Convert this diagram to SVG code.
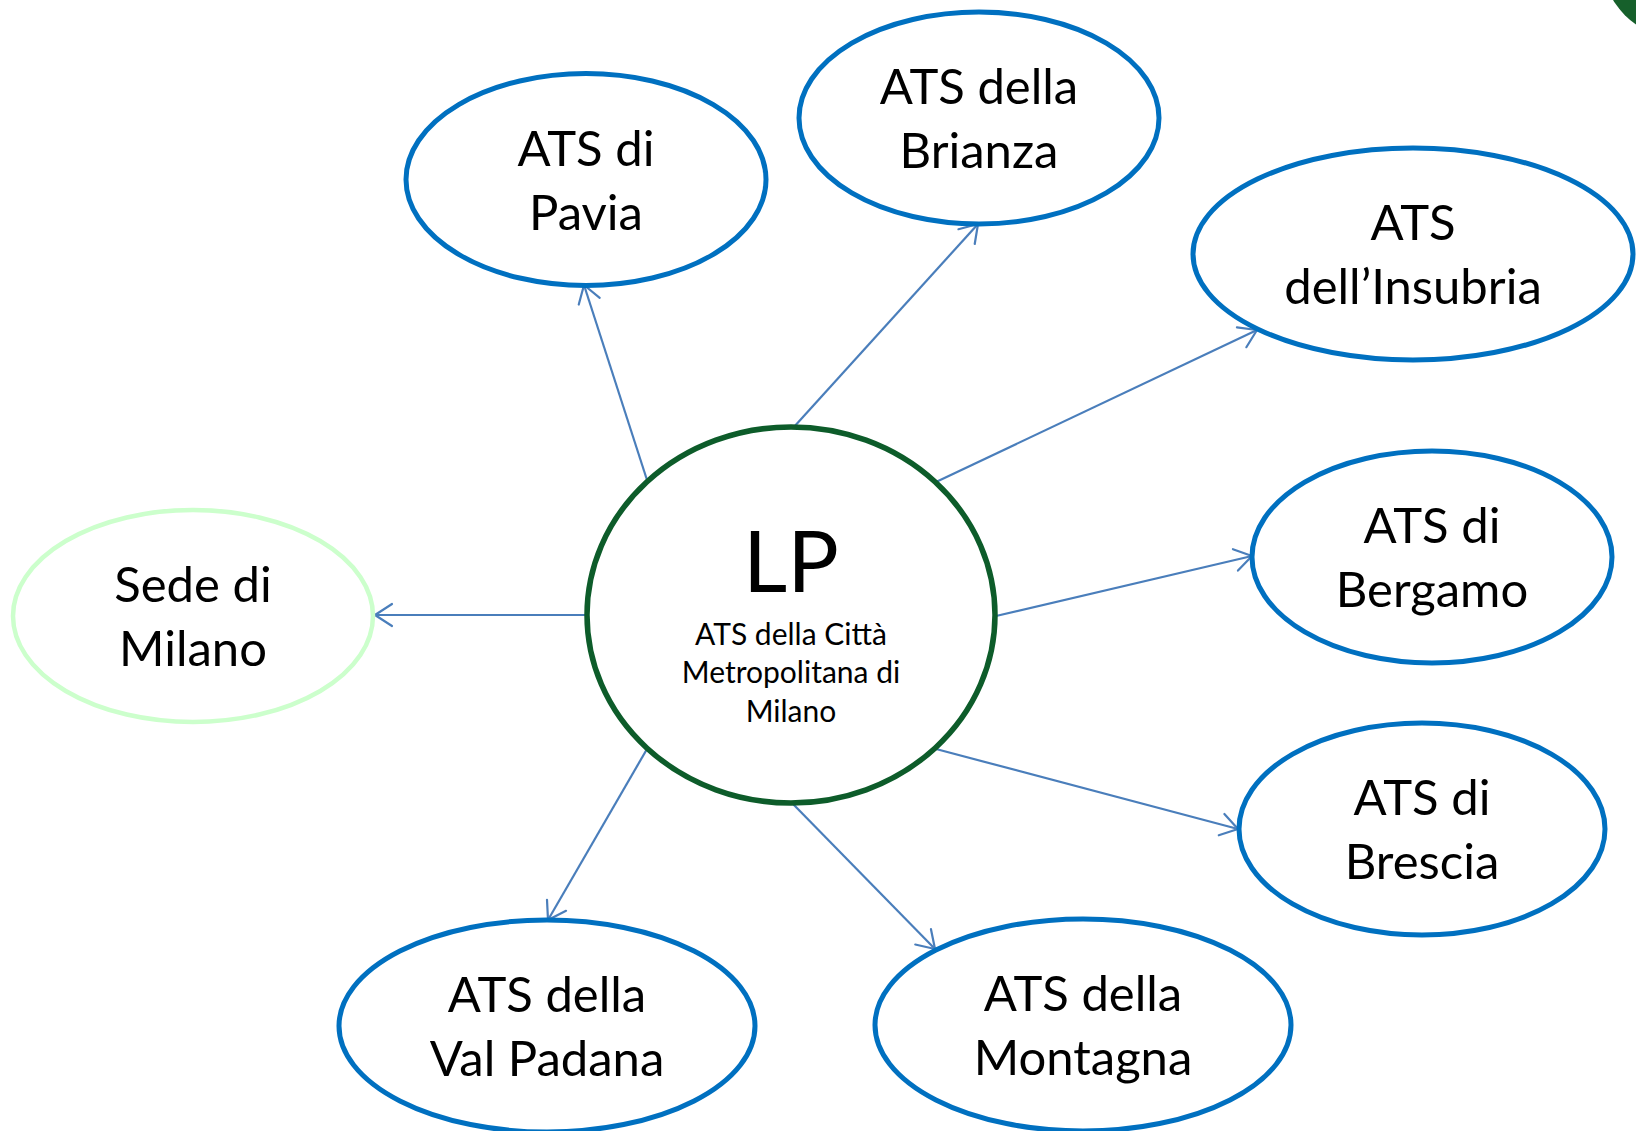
<svg xmlns="http://www.w3.org/2000/svg" width="1636" height="1131" viewBox="0 0 1636 1131">
  <defs>
    <marker id="arr" markerUnits="userSpaceOnUse" markerWidth="24" markerHeight="28" viewBox="-20 -14 24 28" refX="0" refY="0" orient="auto">
      <path d="M -17 -11 L 0 0 L -17 11" fill="none" stroke="#4a7ebb" stroke-width="2.2" stroke-linecap="round" stroke-linejoin="round"/>
    </marker>
    <style>
      .ats { fill: #ffffff; stroke: #0070c0; stroke-width: 5; }
      .sede { fill: #ffffff; stroke: #ccffcc; stroke-width: 4.5; }
      .hub { fill: #ffffff; stroke: #0d5c2a; stroke-width: 5.5; }
      .lbl { font-family: Lato, "Open Sans", sans-serif; font-size: 49px; fill: #000000; text-anchor: middle; }
      .big { font-family: Lato, "Open Sans", sans-serif; font-size: 86px; fill: #000000; text-anchor: middle; }
      .small { font-family: Lato, "Open Sans", sans-serif; font-size: 30px; fill: #000000; text-anchor: middle; }
      .conn { stroke: #4a7ebb; stroke-width: 2.2; fill: none; marker-end: url(#arr); }
    </style>
  </defs>
  <rect x="0" y="0" width="1636" height="1131" fill="#ffffff"/>
  <circle cx="1680" cy="-40" r="78" fill="#16602b"/>

  <g id="connectors">
    <line class="conn" x1="647" y1="480" x2="584" y2="285"/>
    <line class="conn" x1="793" y1="428" x2="978" y2="224"/>
    <line class="conn" x1="936" y1="482" x2="1257" y2="330"/>
    <line class="conn" x1="996" y1="616" x2="1252" y2="556"/>
    <line class="conn" x1="936" y1="749" x2="1238" y2="829"/>
    <line class="conn" x1="793" y1="804" x2="935" y2="949"/>
    <line class="conn" x1="647" y1="749" x2="548" y2="920"/>
    <line class="conn" x1="588" y1="615" x2="375" y2="615"/>
  </g>

  <g id="hub">
    <ellipse class="hub" cx="791" cy="615" rx="204" ry="188"/>
    <text class="big" x="791" y="592">LP</text>
    <text class="small" x="791" y="645">ATS della Città</text>
    <text class="small" x="791" y="683">Metropolitana di</text>
    <text class="small" x="791" y="722">Milano</text>
  </g>

  <g id="pavia">
    <ellipse class="ats" cx="586" cy="179.5" rx="180" ry="106"/>
    <text class="lbl" x="586" y="166">ATS di</text>
    <text class="lbl" x="586" y="230">Pavia</text>
  </g>

  <g id="brianza">
    <ellipse class="ats" cx="979" cy="118" rx="180" ry="106"/>
    <text class="lbl" x="979" y="104">ATS della</text>
    <text class="lbl" x="979" y="168">Brianza</text>
  </g>

  <g id="insubria">
    <ellipse class="ats" cx="1413" cy="254" rx="220" ry="106"/>
    <text class="lbl" x="1413" y="240">ATS</text>
    <text class="lbl" x="1413" y="304">dell’Insubria</text>
  </g>

  <g id="bergamo">
    <ellipse class="ats" cx="1432" cy="557" rx="180" ry="106"/>
    <text class="lbl" x="1432" y="543">ATS di</text>
    <text class="lbl" x="1432" y="607">Bergamo</text>
  </g>

  <g id="brescia">
    <ellipse class="ats" cx="1422" cy="829" rx="183" ry="106"/>
    <text class="lbl" x="1422" y="815">ATS di</text>
    <text class="lbl" x="1422" y="879">Brescia</text>
  </g>

  <g id="montagna">
    <ellipse class="ats" cx="1083" cy="1025" rx="208" ry="106"/>
    <text class="lbl" x="1083" y="1011">ATS della</text>
    <text class="lbl" x="1083" y="1075">Montagna</text>
  </g>

  <g id="valpadana">
    <ellipse class="ats" cx="547" cy="1026" rx="208" ry="106"/>
    <text class="lbl" x="547" y="1012">ATS della</text>
    <text class="lbl" x="547" y="1076">Val Padana</text>
  </g>

  <g id="sede">
    <ellipse class="sede" cx="193" cy="616" rx="180" ry="106"/>
    <text class="lbl" x="193" y="602">Sede di</text>
    <text class="lbl" x="193" y="666">Milano</text>
  </g>
</svg>
